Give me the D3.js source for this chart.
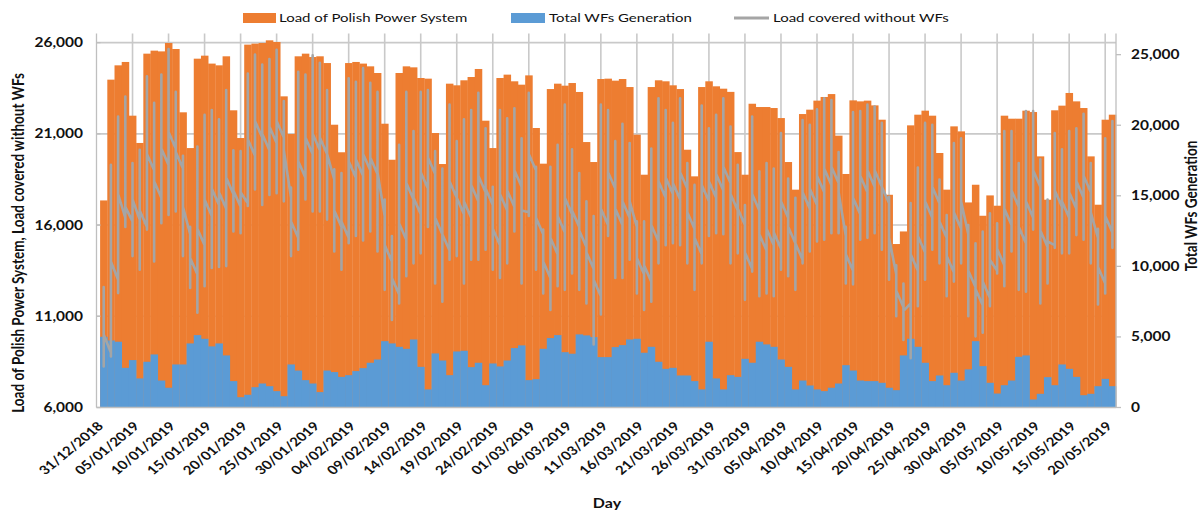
<!DOCTYPE html>
<html><head><meta charset="utf-8">
<script src="https://cdn.jsdelivr.net/npm/d3@7"></script>
<style>body{margin:0;background:#fff;} svg{display:block;}</style>
</head><body>
<svg id="chart" width="1200" height="512"></svg>
<script>
// ---- DATA ----
// x axis: days counted from 31/12/2018 (index 0); bars for 01/01/2019 (1) .. 21/05/2019 (141)
const tickLabels = ["31/12/2018","05/01/2019","10/01/2019","15/01/2019","20/01/2019","25/01/2019","30/01/2019",
  "04/02/2019","09/02/2019","14/02/2019","19/02/2019","24/02/2019","01/03/2019","06/03/2019","11/03/2019",
  "16/03/2019","21/03/2019","26/03/2019","31/03/2019","05/04/2019","10/04/2019","15/04/2019","20/04/2019",
  "25/04/2019","30/04/2019","05/05/2019","10/05/2019","15/05/2019","20/05/2019"];
const leftTicks = [6000, 11000, 16000, 21000, 26000];
const rightTicks = [0, 5000, 10000, 15000, 20000, 25000];

const loadPeak = [17350,23970,24755,24940,21995,20500,25395,25560,25520,25980,
 25650,22180,20220,25120,25285,24850,24755,25250,22290,20770,
 25890,25945,25980,26125,26035,23055,20990,25250,25395,25210,
 25250,24880,21500,19990,24880,24940,24850,24700,24335,21555,
 19580,24335,24700,24645,24060,24025,21045,19345,23750,23660,
 23935,24115,24555,21720,20220,24060,24245,23880,23695,24205,
 21320,19365,23455,23750,23640,23785,23295,20550,19455,24005,
 24025,23915,24005,23565,20955,18760,23565,23935,23880,23660,
 23455,20130,18670,23565,23880,23605,23475,23300,20000,18760,
 22650,22470,22470,22415,21865,19455,17940,22085,22325,22820,
 23020,23180,20900,18800,22835,22780,22820,22560,21775,17660,
 14960,15650,21465,22050,22270,21995,19950,17940,21410,21135,
 17240,18210,16510,17625,17060,21995,21830,21830,22270,22195,
 19765,17390,22290,22545,23240,22780,22415,19765,17115,21775,
 22050];

const wfGen = [5010,4750,4660,2810,3360,2060,3240,3760,1910,1400,
 3050,3050,4540,5130,4870,4330,4540,3690,1870,730,
 900,1440,1700,1510,1160,800,3050,2620,1940,1700,
 1090,2620,2510,2170,2290,2580,2790,3170,3400,4700,
 4540,4300,4160,4820,2880,1280,3830,3330,2290,3970,
 4020,2860,3170,1580,3120,2910,3330,4210,4400,1940,
 2010,4160,4920,5130,3920,3810,5180,5110,4990,3570,
 3570,4280,4420,4820,4870,3880,4300,3240,2740,2810,
 2270,2270,1870,1280,4660,2060,1280,2290,2170,3450,
 3170,4660,4470,4300,3400,2880,1280,1910,1560,1280,
 1160,1400,1700,3000,2620,1910,1870,1870,1750,1400,
 1230,3690,4870,4300,3170,1870,2270,1580,2460,1910,
 2700,4700,2930,1750,990,1580,1910,3590,3690,570,
 970,2150,1580,3050,2740,2170,870,970,1510,2030,
 1510];

// Load covered without WFs: per day value at day start, daily minimum, daily maximum, value at day end
const netOpen = [11000,9000,13000,16400,16200,16300,15900,19000,17500,19300,
 20200,19100,15500,13300,14900,16500,17100,16900,17700,17000,
 17200,19800,20800,20100,20500,20800,17500,15300,18600,19900,
 20100,19900,18500,15900,15300,18600,18700,19000,18800,16500,
 14000,12200,15200,17400,16600,18000,18800,15500,14600,17500,
 16600,16400,17300,17800,17100,14900,16800,17000,18100,16700,
 19000,15500,13100,14400,15600,16600,15900,14800,13600,12100,
 16000,18000,16000,16400,15900,13300,12900,15100,17500,17700,
 17400,18000,15800,14400,17300,17500,17900,18300,16800,16000,
 13600,16800,14600,14900,14700,16400,15000,14100,16900,17100,
 17800,18200,18300,15400,13500,16600,17800,18100,18100,17200,
 13300,11500,11700,13500,14500,16400,17200,15300,13400,15800,
 15500,12600,11600,12000,13500,13800,16000,17000,15000,16400,
 18100,14800,14900,17000,16400,16900,17500,17800,15300,12800,
 15600];
const netMin = [8250,8800,12270,15900,14300,13550,15750,14000,16100,16550,
 16750,14300,12550,11200,12650,13650,13700,13750,15650,15550,
 17050,17950,17100,17650,17750,17300,14300,14650,17400,16750,
 16750,16300,14550,13550,15000,15400,15150,15650,14550,12450,
 10800,11700,13200,13900,14450,15900,12800,11800,14100,14300,
 12800,14100,14100,14650,13550,13100,13900,15650,12800,16500,
 13550,12250,11350,12650,12450,13350,12450,11700,9450,11100,
 15400,13100,13100,14100,12250,11350,11800,13900,14900,15000,
 14900,13900,12450,13900,15400,15550,15500,13900,14450,11900,
 13450,12100,12250,12100,13550,13200,12450,13900,14550,15100,
 15200,15550,15550,12800,12750,15200,15300,15550,14650,13000,
 11000,9700,8700,11550,13000,14650,13900,12100,12900,13900,
 11000,9900,10100,11550,13350,12650,14550,12450,12350,15750,
 11700,12800,14750,14450,14450,15450,15200,13900,11650,12250,
 14750];
const netMax = [12600,19300,21950,23050,19400,20130,24150,22700,24250,25650,
 23300,19800,15900,20300,22050,22300,21800,23400,20100,20050,
 24300,25350,24800,25100,25600,22800,18050,24400,24250,25300,
 24900,23400,19050,18850,24050,23850,24600,23800,23300,17400,
 15400,20400,23300,21150,23300,23400,20050,19100,22600,20600,
 21800,22300,23250,21300,18100,22300,21850,22400,20750,23250,
 19200,15750,19200,20400,22600,20150,18850,17300,16500,22600,
 22300,20600,21550,20500,16200,16200,20200,22950,22300,21600,
 22950,19400,18200,22550,21300,22050,22950,21400,19300,17100,
 21950,18950,19400,19100,21050,18550,17500,21750,21500,22350,
 22950,22850,20000,15900,22200,22250,22600,22500,21600,17550,
 13800,12800,17200,19150,21600,21500,18500,16550,20500,20750,
 16000,15000,15650,16650,16100,21150,21150,19400,22250,22250,
 19600,17400,21050,20150,21150,21300,22100,19400,15800,20750,
 21700];
const netClose = [10000,14000,17700,17000,17400,16800,19900,18400,20200,21100,
 20000,17000,14200,15800,17400,18000,17800,18600,17900,17800,
 20700,21700,21000,21400,21700,20100,16200,19500,20800,21000,
 20800,19900,16800,16200,19500,19600,19900,19700,18900,14900,
 13100,16100,18300,17500,18900,19700,16400,15500,18400,17500,
 17300,18200,18700,18000,15800,17700,17900,19000,16800,19900,
 16400,14000,15300,16500,17500,16800,15700,14500,13000,16900,
 18900,16900,17300,17300,14200,13800,16000,18400,18600,18300,
 18900,16700,15300,18200,18400,18800,19200,17700,16900,14500,
 17700,15500,15800,15600,17300,15900,15000,17800,18000,18700,
 19100,19200,17800,14400,17500,18700,19000,19000,18100,15300,
 12400,11300,14400,15400,17300,18100,16200,14300,16700,17300,
 13500,12500,12900,14100,14700,16900,17900,15900,17300,19000,
 15700,15100,17900,17300,17800,18400,18700,16700,13700,16500,
 18200];

const seriesNames = ["Load of Polish Power System", "Total WFs Generation", "Load covered without WFs"];
const colors = {load:"#ED7D31", wf:"#5B9BD5", net:"#A5A5A5", grid:"#C9C9C9", axis:"#BFBFBF", text:"#111111"};

// ---- LAYOUT ----
const svg = d3.select("#chart");
const plot = {left:96.5, right:1116, top:33.5, bottom:407.5};
const SQ = 0.82; // vertical compression of text

const x = d3.scaleLinear().domain([0, 141.5]).range([plot.left, plot.right]);
const yL = d3.scaleLinear().domain([6000, 26500]).range([plot.bottom, plot.top]);
const yR = d3.scaleLinear().domain([0, 26500]).range([plot.bottom, plot.top]);
const bw = x(1) - x(0);
const days = d3.range(1, loadPeak.length + 1);
const fmt = d3.format(",");

function sqText(g, px, py, rot, str, anchor, size, weight){
  return g.append("text")
    .attr("transform", `translate(${px},${py}) scale(1,${SQ}) rotate(${rot})`)
    .attr("text-anchor", anchor).attr("dy", "0.35em")
    .attr("font-family", "Lato, 'Open Sans', sans-serif")
    .attr("font-size", size).attr("font-weight", weight)
    .attr("fill", colors.text).text(str);
}

// gridlines
const grid = svg.append("g");
grid.selectAll("line.h").data(leftTicks.filter(v => v > 6000)).join("line")
  .attr("x1", plot.left).attr("x2", plot.right)
  .attr("y1", d => yL(d)).attr("y2", d => yL(d))
  .attr("stroke", colors.grid).attr("stroke-width", 1.6);
grid.selectAll("line.v").data(tickLabels.map((d,i) => i*5).filter(d => d > 0)).join("line")
  .attr("x1", d => x(d)).attr("x2", d => x(d))
  .attr("y1", plot.top).attr("y2", plot.bottom)
  .attr("stroke", colors.grid).attr("stroke-width", 1.6);

// orange bars (load)
svg.append("g").selectAll("rect").data(days).join("rect")
  .attr("x", d => x(d) - bw/2).attr("width", bw + 0.3)
  .attr("y", (d,i) => yL(loadPeak[i]))
  .attr("height", (d,i) => yL(6000) - yL(loadPeak[i]))
  .attr("fill", colors.load);

// blue bars (WF generation, right axis)
svg.append("g").selectAll("rect").data(days).join("rect")
  .attr("x", d => x(d) - bw/2).attr("width", bw + 0.3)
  .attr("y", (d,i) => yR(wfGen[i]))
  .attr("height", (d,i) => yR(0) - yR(wfGen[i]))
  .attr("fill", colors.wf);

// grey line (load covered without WFs)
const pts = [];
days.forEach((d,i) => {
  pts.push([d, netOpen[i]], [d, netMin[i]], [d, netMax[i]], [d, netClose[i]]);
});
svg.append("path").datum(pts)
  .attr("d", d3.line().x(p => x(p[0])).y(p => yL(p[1])))
  .attr("fill", "none").attr("stroke", colors.net)
  .attr("stroke-width", 2.6).attr("stroke-linejoin", "round");

// axes lines
const ax = svg.append("g").attr("stroke", colors.axis).attr("stroke-width", 1.3);
ax.append("line").attr("x1", plot.left).attr("x2", plot.left).attr("y1", plot.top).attr("y2", plot.bottom);
ax.append("line").attr("x1", plot.right).attr("x2", plot.right).attr("y1", plot.top).attr("y2", plot.bottom);
ax.append("line").attr("x1", plot.left).attr("x2", plot.right).attr("y1", plot.bottom).attr("y2", plot.bottom);
ax.selectAll("line.rt").data(rightTicks).join("line")
  .attr("x1", plot.right).attr("x2", plot.right + 5)
  .attr("y1", d => yR(d)).attr("y2", d => yR(d));
ax.selectAll("line.lt").data(leftTicks).join("line")
  .attr("x1", plot.left).attr("x2", plot.left + 4)
  .attr("y1", d => yL(d)).attr("y2", d => yL(d));

// tick labels
const tg = svg.append("g");
leftTicks.forEach(v => sqText(tg, 83, yL(v), 0, fmt(v), "end", 15.5, 700));
rightTicks.forEach(v => sqText(tg, 1131, yR(v), 0, fmt(v), "start", 15.5, 700));
tickLabels.forEach((s,i) => sqText(tg, x(i*5) + 4, 424, -45, s, "end", 15, 700));

// axis titles
sqText(tg, 18, 243, -90, "Load of Polish Power System, Load covered without WFs", "middle", 16.5, 700);
sqText(tg, 1191, 206, -90, "Total WFs Generation", "middle", 16.5, 700);
sqText(tg, 607, 503, 0, "Day", "middle", 16, 700);

// legend
const lg = svg.append("g");
lg.append("rect").attr("x", 243).attr("y", 13).attr("width", 33).attr("height", 10).attr("fill", colors.load);
sqText(lg, 279, 18, 0, seriesNames[0], "start", 15, 400);
lg.append("rect").attr("x", 511).attr("y", 13).attr("width", 34).attr("height", 10).attr("fill", colors.wf);
sqText(lg, 549, 18, 0, seriesNames[1], "start", 15, 400);
lg.append("line").attr("x1", 734).attr("x2", 769).attr("y1", 18).attr("y2", 18)
  .attr("stroke", colors.net).attr("stroke-width", 3);
sqText(lg, 773, 18, 0, seriesNames[2], "start", 15, 400);
</script>
</body></html>
